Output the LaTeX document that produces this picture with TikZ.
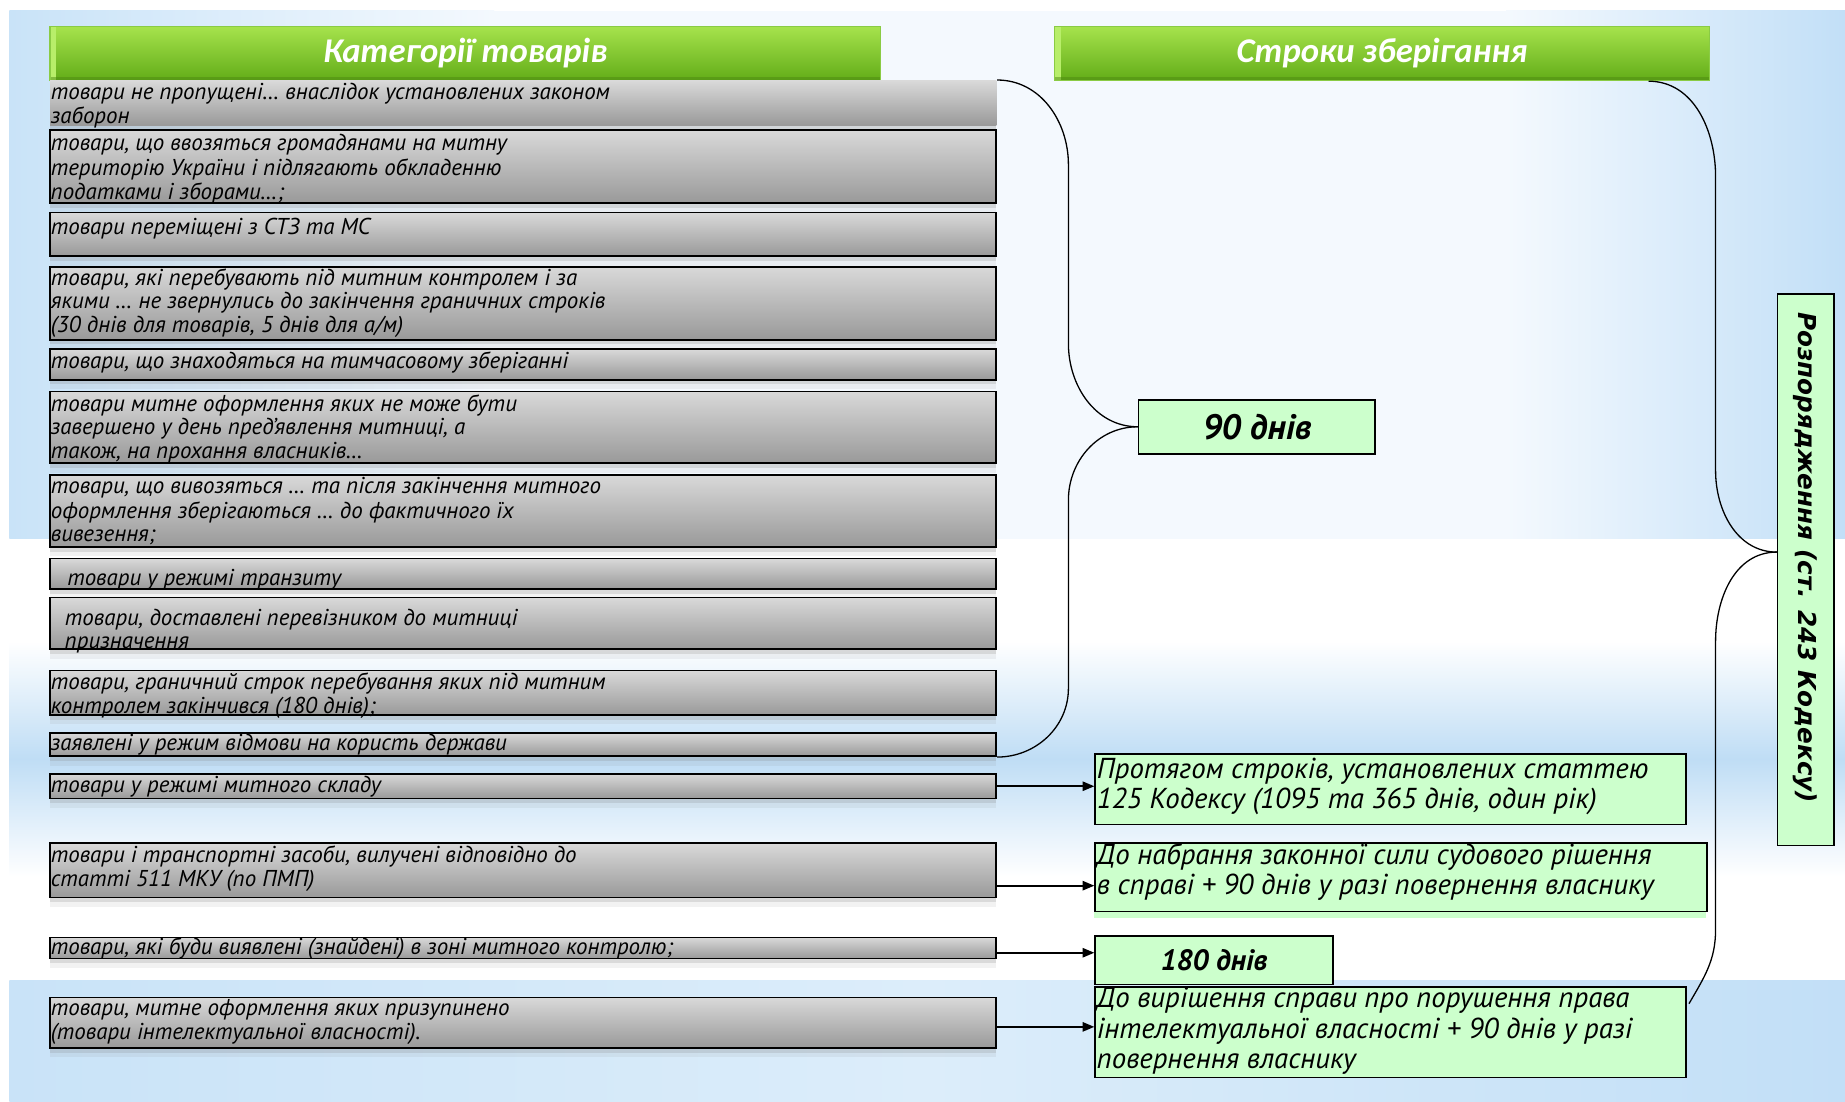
\documentclass[tikz,border=0pt]{standalone}
\usepackage{fontspec}
\setmainfont{PT Sans}
\newfontfamily\hdfont{Carlito}
\newfontfamily\vfont{DejaVu Sans}
\usetikzlibrary{arrows.meta,shadows,calc}

\definecolor{bgL}{HTML}{C9E3F8}
\definecolor{bgR}{HTML}{C2DFF7}
\definecolor{bgpale}{HTML}{F4F9FE}
\definecolor{bgstreak}{HTML}{BFDDF5}
\definecolor{bgpale2}{HTML}{DCEDFA}
\definecolor{hdtop}{HTML}{A6E34C}
\definecolor{hdbot}{HTML}{62AC18}
\definecolor{hdedge}{HTML}{8ACB44}
\definecolor{hdlight}{HTML}{B8EE6A}
\definecolor{mint}{HTML}{CCFFCC}

\tikzset{
  gbox/.style={anchor=north west, minimum width=804pt, inner sep=0pt,
    top color=gray!30, bottom color=gray!80, draw=black, line width=1.4pt,
    drop shadow={shadow xshift=0pt, shadow yshift=-4pt, opacity=.2},
    drop shadow={shadow xshift=0pt, shadow yshift=-8pt, opacity=.1}},
  btxt/.style={anchor=north west, inner sep=0pt, align=left, yshift=-2pt,
    font=\fontsize{19.5}{20}\selectfont\itshape},
  gnode/.style={anchor=north west, draw=black, line width=1.4pt, fill=mint, inner sep=0pt},
  gtxt/.style={anchor=north west, inner sep=0pt, align=left,
    font=\fontsize{24.5}{26}\selectfont\itshape},
  boldtxt/.style={font=\fontsize{25}{28}\selectfont\bfseries\itshape},
  header/.style={anchor=north west, inner sep=0pt, minimum height=46pt,
    top color=hdtop, bottom color=hdbot, draw=hdedge, line width=1pt,
    text=white, font=\hdfont\fontsize{29.5}{32}\selectfont\bfseries\itshape,
    path picture={
      \fill[hdlight] (path picture bounding box.north west) rectangle
        ([xshift=5pt]path picture bounding box.south west);
      \fill[hdbot!80!black, opacity=.5] (path picture bounding box.south west) rectangle
        ([yshift=3pt]path picture bounding box.south east);}},
  link/.style={draw=black, line width=1.1pt},
  arr/.style={draw=black, line width=1.4pt, -{Triangle[length=10pt,width=8pt]}}
}

\begin{document}
\begin{tikzpicture}[x=1pt,y=1pt]
  \useasboundingbox (0,0) rectangle (1568,-936);

  % slide background
  \fill[white] (0,0) rectangle (1568,-936);
  \fill[bgpale] (8,-9) rectangle (1568,-458);
  \shade[left color=bgL, right color=bgpale] (8,-9) rectangle (420,-458);
  \shade[left color=bgpale, right color=bgR] (1280,-9) rectangle (1568,-458);
  \shade[top color=white, bottom color=white, middle color=bgstreak] (8,-545) rectangle (1568,-745);
  \shade[left color=bgL, right color=bgR, middle color=bgpale2] (8,-833) rectangle (1568,-936);

  % column headers
  \node[header, minimum width=706pt] (h1) at (42,-22) {Категорії товарів};
  \node[header, minimum width=556pt] (h2) at (896,-22) {Строки зберігання};

  % categories of goods
  \node[gbox, draw=none, minimum height=38pt] (b1) at (42,-68) {};
  \node[gbox, minimum height=62pt] (b2) at (42,-110) {};
  \node[gbox, minimum height=37pt] (b3) at (42,-180) {};
  \node[gbox, minimum height=62pt] (b4) at (42,-226) {};
  \node[gbox, minimum height=26pt] (b5) at (42,-296) {};
  \node[gbox, minimum height=61pt] (b6) at (42,-332) {};
  \node[gbox, minimum height=61pt] (b7) at (42,-403) {};
  \node[gbox, minimum height=26pt] (b8) at (42,-474) {};
  \node[gbox, minimum height=44pt] (b9) at (42,-507) {};
  \node[gbox, minimum height=38pt] (b10) at (42,-569) {};
  \node[gbox, minimum height=20pt] (b11) at (42,-622) {};
  \node[gbox, minimum height=21pt] (b12) at (42,-657) {};
  \node[gbox, minimum height=46pt] (b13) at (42,-716) {};
  \node[gbox, minimum height=18pt] (b14) at (42,-796) {};
  \node[gbox, minimum height=43pt] (b15) at (42,-847) {};

  \node[btxt] (t1) at (43,-68) {\strut товари не пропущені… внаслідок установлених законом\\заборон};
  \node[btxt] (t2) at (43,-112) {\strut товари, що ввозяться громадянами на митну\\територію України і підлягають обкладенню\\податками і зборами…;};
  \node[btxt] (t3) at (43,-183) {\strut товари переміщені з СТЗ та МС};
  \node[btxt] (t4) at (43,-226) {\strut товари, які перебувають під митним контролем і за\\якими … не звернулись до закінчення граничних строків\\(30 днів для товарів, 5 днів для а/м)};
  \node[btxt] (t5) at (43,-297) {\strut товари, що знаходяться на тимчасовому зберіганні};
  \node[btxt] (t6) at (43,-333) {\strut товари митне оформлення яких не може бути\\завершено у день пред'явлення митниці, а\\також, на прохання власників…};
  \node[btxt] (t7) at (43,-403) {\strut товари, що вивозяться … та після закінчення митного\\оформлення зберігаються … до фактичного їх\\вивезення;};
  \node[btxt] (t8) at (57,-481) {\strut товари у режимі транзиту};
  \node[btxt] (t9) at (55,-515) {\strut товари, доставлені перевізником до митниці\\призначення};
  \node[btxt, font=\fontsize{19.5}{17}\selectfont\itshape] (t10) at (43,-570) {\strut товари, граничний строк перебування яких під митним\\контролем закінчився (180 днів);};
  \node[btxt] (t11) at (43,-622) {\strut заявлені у режим відмови на користь держави};
  \node[btxt] (t12) at (43,-657) {\strut товари у режимі митного складу};
  \node[btxt] (t13) at (43,-717) {\strut товари і транспортні засоби, вилучені відповідно до\\статті 511 МКУ (по ПМП)};
  \node[btxt] (t14) at (43,-795) {\strut товари, які буди виявлені (знайдені) в зоні митного контролю;};
  \node[btxt] (t15) at (43,-847) {\strut товари, митне оформлення яких призупинено\\(товари інтелектуальної власності).};

  % storage terms
  \node[gnode, minimum width=201pt, minimum height=46pt] (d90) at (967,-339) {};
  \node[boldtxt, font=\fontsize{30}{32}\selectfont\bfseries\itshape] (d90t) at (d90.center) {90 днів};
  \node[gnode, minimum width=502pt, minimum height=60pt] (g1) at (930,-640) {};
  \node[gtxt] (g1t) at (932,-643) {\strut Протягом строків, установлених статтею\\125 Кодексу (1095 та 365 днів, один рік)};
  \fill[mint] (930,-774) rectangle (1450,-780);
  \node[gnode, minimum width=520pt, minimum height=58pt] (g2) at (930,-716) {};
  \node[gtxt] (g2t) at (932,-716) {\strut До набрання законної сили судового рішення\\в справі + 90 днів у разі повернення власнику};
  \node[gnode, minimum width=202pt, minimum height=41pt] (g3) at (930,-795) {};
  \node[boldtxt] (g3t) at (g3.center) {180 днів};
  \node[gnode, minimum width=502pt, minimum height=77pt] (g4) at (930,-838) {};
  \node[gtxt] (g4t) at (932,-838) {\strut До вирішення справи про порушення права\\інтелектуальної власності + 90 днів у разі\\повернення власнику};

  % disposal
  \node[gnode, minimum width=48pt, minimum height=469pt] (vb) at (1510,-249) {};
  \node[rotate=-90, inner sep=0pt, font=\vfont\fontsize{21}{24}\selectfont\bfseries\itshape] (vt) at (1534,-474) {Розпорядження (ст. 243 Кодексу)};

  % brace joining the first eleven categories to 90 days
  \coordinate (k1) at (908,-140);
  \coordinate (k2) at (908,-292);
  \coordinate (k3) at (908,-425);
  \coordinate (k4) at (908,-585);
  \draw[link] (b1.north east) to[out=0,in=90] (k1) -- (k2) to[out=-90,in=180] (d90.west);
  \draw[link] (d90.west) to[out=180,in=90] (k3) -- (k4) to[out=-90,in=0] (b11.south east);

  % brace towards the disposal box
  \coordinate (hs) at ($(h2.south east)+(-52,0)$);
  \coordinate (vj) at ($(vb.west)+(0,15)$);
  \coordinate (gj) at ($(g4.north east)+(2,-15)$);
  \coordinate (r1) at (1458,-150);
  \coordinate (r2) at (1458,-400);
  \coordinate (r3) at (1458,-545);
  \coordinate (r4) at (1458,-790);
  \draw[link] (hs) to[out=0,in=90] (r1) -- (r2) to[out=-90,in=180] (vj);
  \draw[link] (vj) to[out=180,in=90] (r3) -- (r4) to[out=-90,in=60] (gj);

  % arrows from categories to their terms
  \coordinate (a12) at (b12.east);
  \coordinate (a13) at ($(b13.east)+(0,-13)$);
  \coordinate (a14) at ($(b14.east)+(0,-4)$);
  \coordinate (a15) at ($(b15.east)+(0,-3.5)$);
  \draw[arr] (a12) -- (a12 -| g1.west);
  \draw[arr] (a13) -- (a13 -| g2.west);
  \draw[arr] (a14) -- (a14 -| g3.west);
  \draw[arr] (a15) -- (a15 -| g4.west);
\end{tikzpicture}
\end{document}
